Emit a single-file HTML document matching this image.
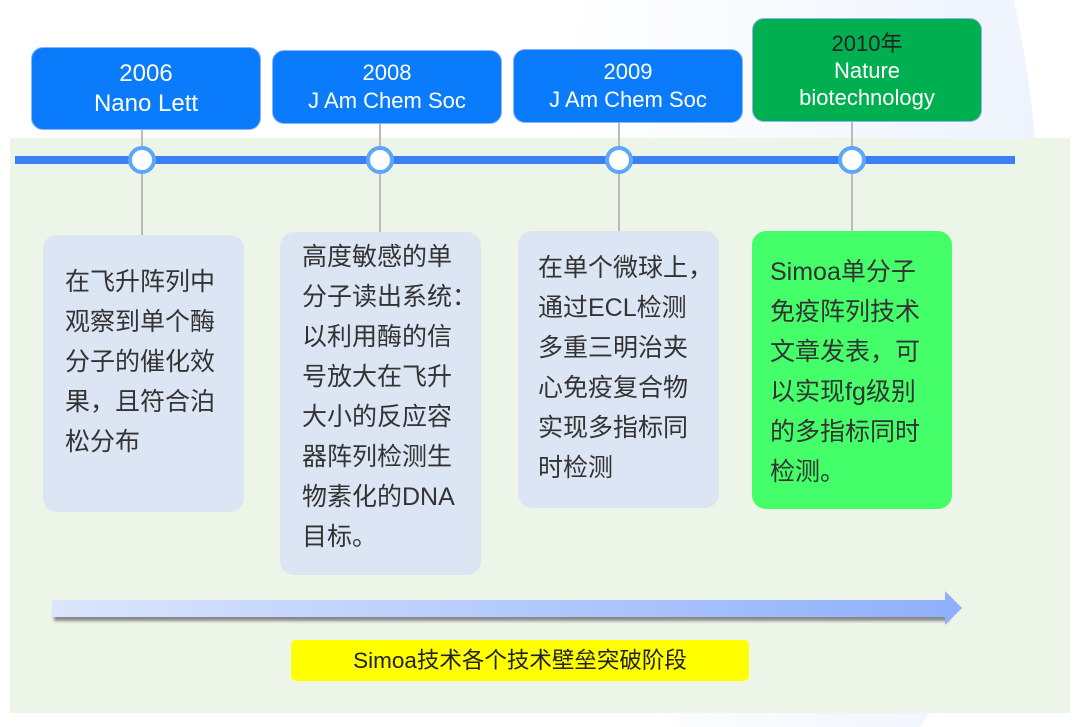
<!DOCTYPE html>
<html style="width:1080px;height:727px;overflow:hidden"><head><meta charset="utf-8"><style>
body{margin:0;width:1080px;height:727px;overflow:hidden;background:#fff;font-family:"Liberation Sans","Noto Sans CJK SC",sans-serif}
#w{position:relative;width:1080px;height:727px;overflow:hidden}
.a{position:absolute}
.hd{position:absolute;color:#fff;text-align:center;border-radius:12px;border:1px solid #8ab4f8;box-sizing:border-box;background:#0a7bfa;font-size:22px;line-height:28px;display:flex;flex-direction:column;justify-content:center}
.ct{position:absolute;border-radius:14px;background:#dce5f3;box-sizing:border-box;padding:26px 0 0 22px;font-size:25px;line-height:40px;color:#333;white-space:nowrap}
.v{position:absolute;width:2px;background:#bbb}
.c{position:absolute;width:20px;height:20px;border-radius:50%;background:#fff;border:4px solid #5ea6fb}
</style></head><body><div id="w">
<svg class="a" style="left:0;top:0" width="1080" height="727"><defs><linearGradient id="g" x1="0" x2="1"><stop offset="0" stop-color="#fff"/><stop offset="1" stop-color="#eef3fd"/></linearGradient></defs><ellipse cx="800" cy="250" rx="240" ry="550" fill="url(#g)"/></svg>
<div class="a" style="left:10px;top:138px;width:1060px;height:575px;background:#edf5e9"></div>
<div class="a" style="left:15px;top:156px;width:1000px;height:8px;background:#3b7ff5"></div>
<div class="v" style="left:141px;top:130px;height:105px"></div>
<div class="v" style="left:379px;top:124px;height:108px"></div>
<div class="v" style="left:618px;top:123px;height:108px"></div>
<div class="v" style="left:851px;top:122px;height:109px"></div>
<div class="c" style="left:128px;top:146px"></div>
<div class="c" style="left:366px;top:146px"></div>
<div class="c" style="left:605px;top:146px"></div>
<div class="c" style="left:838px;top:146px"></div>
<div class="hd" style="left:31px;top:47px;width:230px;height:83px;font-size:24px;line-height:30px"><div>2006</div><div>Nano Lett</div></div>
<div class="hd" style="left:272px;top:50px;width:230px;height:74px"><div>2008</div><div>J Am Chem Soc</div></div>
<div class="hd" style="left:513px;top:49px;width:230px;height:74px"><div>2009</div><div>J Am Chem Soc</div></div>
<div class="hd" style="left:752px;top:18px;width:230px;height:104px;background:#00b050;line-height:27px"><div style="color:#222">2010年</div><div>Nature</div><div>biotechnology</div></div>
<div class="ct" style="left:43px;top:235px;width:201px;height:277px;padding-top:27px">在飞升阵列中<br>观察到单个酶<br>分子的催化效<br>果，且符合泊<br>松分布</div>
<div class="ct" style="left:280px;top:232px;width:201px;height:343px;padding-top:5px">高度敏感的单<br>分子读出系统：<br>以利用酶的信<br>号放大在飞升<br>大小的反应容<br>器阵列检测生<br>物素化的DNA<br>目标。</div>
<div class="ct" style="left:518px;top:231px;width:201px;height:277px;padding-top:17px;padding-left:20px">在单个微球上，<br>通过ECL检测<br>多重三明治夹<br>心免疫复合物<br>实现多指标同<br>时检测</div>
<div class="ct" style="left:752px;top:231px;width:200px;height:278px;background:#44ff6a;padding:21px 0 0 18px">Simoa单分子<br>免疫阵列技术<br>文章发表，可<br>以实现fg级别<br>的多指标同时<br>检测。</div>
<div class="a" style="left:52px;top:600px;width:895px;height:17px;background:linear-gradient(90deg,#dbe6fd,#8fb0fb);box-shadow:2px 4px 3px #888"></div>
<div class="a" style="left:945px;top:591px;width:0;height:0;border-top:17px solid transparent;border-bottom:17px solid transparent;border-left:17px solid #8fb0fb"></div>
<div class="a" style="left:291px;top:640px;width:458px;height:41px;background:#ffff00;border-radius:5px;text-align:center;font-size:22.5px;line-height:41px;color:#222">Simoa技术各个技术壁垒突破阶段</div>
</div></body></html>
